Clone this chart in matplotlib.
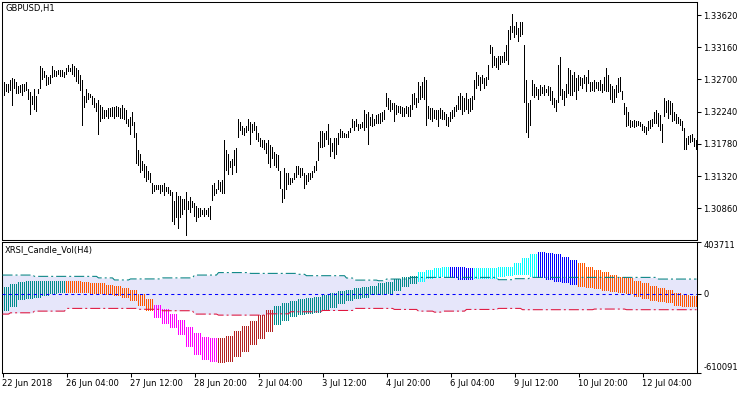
import numpy as np
import matplotlib.pyplot as plt

# GBPUSD H1 bars, first bar 22 Jun 2018 20:00 (one value per bar)
high = [1.3264, 1.3266, 1.3263, 1.3264, 1.3269, 1.3272, 1.3270, 1.3266, 1.3260, 1.3262, 1.3263, 1.3263,
        1.3266, 1.3256, 1.3252, 1.3247, 1.3257, 1.3246, 1.3257, 1.3289, 1.3286, 1.3282, 1.3276, 1.3273,
        1.3276, 1.3289, 1.3283, 1.3282, 1.3283, 1.3284, 1.3284, 1.3280, 1.3286, 1.3290, 1.3287, 1.3292,
        1.3289, 1.3286, 1.3283, 1.3276, 1.3269, 1.3247, 1.3256, 1.3250, 1.3249, 1.3247, 1.3243, 1.3236,
        1.3240, 1.3233, 1.3230, 1.3227, 1.3226, 1.3229, 1.3229, 1.3230, 1.3230, 1.3232, 1.3230, 1.3229,
        1.3233, 1.3229, 1.3226, 1.3214, 1.3217, 1.3223, 1.3209, 1.3193, 1.3169, 1.3164, 1.3154, 1.3150,
        1.3147, 1.3140, 1.3137, 1.3122, 1.3120, 1.3119, 1.3120, 1.3120, 1.3119, 1.3122, 1.3117, 1.3116,
        1.3112, 1.3109, 1.3097, 1.3109, 1.3104, 1.3103, 1.3100, 1.3100, 1.3109, 1.3097, 1.3102, 1.3097,
        1.3093, 1.3090, 1.3086, 1.3087, 1.3083, 1.3086, 1.3083, 1.3087, 1.3090, 1.3119, 1.3122, 1.3114,
        1.3126, 1.3123, 1.3126, 1.3183, 1.3169, 1.3164, 1.3154, 1.3157, 1.3169, 1.3172, 1.3214, 1.3209,
        1.3204, 1.3200, 1.3204, 1.3214, 1.3209, 1.3207, 1.3209, 1.3204, 1.3193, 1.3187, 1.3183, 1.3183,
        1.3179, 1.3183, 1.3176, 1.3173, 1.3166, 1.3164, 1.3162, 1.3140, 1.3114, 1.3144, 1.3137, 1.3136,
        1.3129, 1.3130, 1.3137, 1.3147, 1.3147, 1.3143, 1.3143, 1.3137, 1.3133, 1.3136, 1.3137, 1.3140,
        1.3147, 1.3154, 1.3180, 1.3196, 1.3196, 1.3193, 1.3196, 1.3207, 1.3187, 1.3179, 1.3186, 1.3187,
        1.3194, 1.3199, 1.3197, 1.3194, 1.3192, 1.3197, 1.3200, 1.3214, 1.3210, 1.3214, 1.3206, 1.3206,
        1.3209, 1.3227, 1.3220, 1.3223, 1.3217, 1.3220, 1.3214, 1.3219, 1.3220, 1.3222, 1.3223, 1.3226,
        1.3250, 1.3243, 1.3240, 1.3236, 1.3237, 1.3234, 1.3232, 1.3232, 1.3230, 1.3229, 1.3232, 1.3230,
        1.3233, 1.3249, 1.3250, 1.3244, 1.3267, 1.3260, 1.3266, 1.3274, 1.3269, 1.3232, 1.3229, 1.3229,
        1.3226, 1.3227, 1.3226, 1.3229, 1.3226, 1.3223, 1.3220, 1.3217, 1.3223, 1.3226, 1.3230, 1.3234,
        1.3246, 1.3250, 1.3247, 1.3244, 1.3250, 1.3242, 1.3243, 1.3246, 1.3269, 1.3280, 1.3277, 1.3274,
        1.3276, 1.3272, 1.3274, 1.3290, 1.3319, 1.3317, 1.3304, 1.3300, 1.3303, 1.3304, 1.3303, 1.3309,
        1.3319, 1.3340, 1.3347, 1.3363, 1.3347, 1.3352, 1.3343, 1.3352, 1.3352, 1.3319, 1.3269, 1.3237,
        1.3240, 1.3269, 1.3264, 1.3259, 1.3257, 1.3262, 1.3259, 1.3262, 1.3257, 1.3260, 1.3259, 1.3254,
        1.3243, 1.3240, 1.3290, 1.3302, 1.3257, 1.3254, 1.3263, 1.3286, 1.3283, 1.3276, 1.3280, 1.3272,
        1.3276, 1.3274, 1.3272, 1.3276, 1.3274, 1.3283, 1.3266, 1.3266, 1.3269, 1.3267, 1.3266, 1.3269,
        1.3264, 1.3274, 1.3286, 1.3276, 1.3263, 1.3260, 1.3257, 1.3262, 1.3272, 1.3273, 1.3254, 1.3237,
        1.3230, 1.3223, 1.3212, 1.3210, 1.3212, 1.3210, 1.3210, 1.3209, 1.3206, 1.3204, 1.3202, 1.3210,
        1.3212, 1.3214, 1.3223, 1.3226, 1.3222, 1.3219, 1.3206, 1.3244, 1.3239, 1.3240, 1.3239, 1.3236,
        1.3223, 1.3220, 1.3217, 1.3214, 1.3210, 1.3200, 1.3186, 1.3189, 1.3190, 1.3192, 1.3187, 1.3183]

low = [1.3252, 1.3246, 1.3252, 1.3250, 1.3253, 1.3232, 1.3257, 1.3249, 1.3249, 1.3250, 1.3247, 1.3252,
       1.3254, 1.3240, 1.3219, 1.3234, 1.3226, 1.3224, 1.3249, 1.3257, 1.3269, 1.3272, 1.3260, 1.3262,
       1.3263, 1.3272, 1.3273, 1.3273, 1.3276, 1.3274, 1.3274, 1.3272, 1.3277, 1.3280, 1.3280, 1.3276,
       1.3273, 1.3266, 1.3263, 1.3254, 1.3204, 1.3229, 1.3236, 1.3240, 1.3243, 1.3233, 1.3229, 1.3223,
       1.3190, 1.3209, 1.3214, 1.3214, 1.3216, 1.3214, 1.3217, 1.3217, 1.3214, 1.3216, 1.3216, 1.3213,
       1.3214, 1.3212, 1.3207, 1.3202, 1.3190, 1.3204, 1.3187, 1.3150, 1.3147, 1.3136, 1.3140, 1.3129,
       1.3123, 1.3126, 1.3122, 1.3107, 1.3109, 1.3112, 1.3112, 1.3107, 1.3110, 1.3104, 1.3109, 1.3107,
       1.3104, 1.3066, 1.3062, 1.3072, 1.3057, 1.3072, 1.3076, 1.3083, 1.3047, 1.3083, 1.3080, 1.3086,
       1.3073, 1.3066, 1.3072, 1.3073, 1.3076, 1.3073, 1.3076, 1.3074, 1.3069, 1.3097, 1.3104, 1.3107,
       1.3112, 1.3109, 1.3107, 1.3107, 1.3140, 1.3133, 1.3143, 1.3133, 1.3147, 1.3136, 1.3186, 1.3197,
       1.3190, 1.3189, 1.3194, 1.3197, 1.3176, 1.3194, 1.3197, 1.3183, 1.3180, 1.3173, 1.3172, 1.3169,
       1.3164, 1.3150, 1.3143, 1.3157, 1.3147, 1.3144, 1.3140, 1.3114, 1.3093, 1.3100, 1.3112, 1.3119,
       1.3120, 1.3122, 1.3126, 1.3129, 1.3133, 1.3129, 1.3132, 1.3114, 1.3119, 1.3123, 1.3126, 1.3129,
       1.3137, 1.3140, 1.3154, 1.3172, 1.3172, 1.3173, 1.3183, 1.3176, 1.3159, 1.3166, 1.3157, 1.3162,
       1.3176, 1.3186, 1.3187, 1.3186, 1.3186, 1.3187, 1.3193, 1.3200, 1.3197, 1.3202, 1.3197, 1.3199,
       1.3200, 1.3197, 1.3200, 1.3176, 1.3204, 1.3202, 1.3204, 1.3206, 1.3207, 1.3207, 1.3209, 1.3212,
       1.3230, 1.3226, 1.3223, 1.3226, 1.3209, 1.3219, 1.3222, 1.3220, 1.3217, 1.3216, 1.3220, 1.3217,
       1.3217, 1.3226, 1.3233, 1.3229, 1.3237, 1.3240, 1.3243, 1.3240, 1.3203, 1.3214, 1.3212, 1.3209,
       1.3214, 1.3212, 1.3202, 1.3214, 1.3212, 1.3212, 1.3203, 1.3202, 1.3209, 1.3213, 1.3216, 1.3223,
       1.3226, 1.3226, 1.3219, 1.3223, 1.3227, 1.3220, 1.3224, 1.3226, 1.3240, 1.3257, 1.3260, 1.3254,
       1.3263, 1.3257, 1.3260, 1.3269, 1.3307, 1.3287, 1.3289, 1.3286, 1.3283, 1.3290, 1.3293, 1.3294,
       1.3297, 1.3290, 1.3326, 1.3336, 1.3329, 1.3334, 1.3323, 1.3330, 1.3333, 1.3237, 1.3193, 1.3187,
       1.3204, 1.3247, 1.3243, 1.3246, 1.3240, 1.3247, 1.3249, 1.3246, 1.3250, 1.3247, 1.3239, 1.3234,
       1.3229, 1.3223, 1.3237, 1.3246, 1.3240, 1.3232, 1.3243, 1.3249, 1.3247, 1.3247, 1.3252, 1.3240,
       1.3254, 1.3260, 1.3257, 1.3263, 1.3252, 1.3264, 1.3252, 1.3254, 1.3252, 1.3256, 1.3253, 1.3254,
       1.3250, 1.3254, 1.3252, 1.3252, 1.3240, 1.3236, 1.3237, 1.3244, 1.3250, 1.3252, 1.3240, 1.3219,
       1.3202, 1.3204, 1.3200, 1.3202, 1.3200, 1.3202, 1.3203, 1.3202, 1.3196, 1.3193, 1.3190, 1.3197,
       1.3199, 1.3202, 1.3206, 1.3207, 1.3202, 1.3197, 1.3179, 1.3216, 1.3222, 1.3214, 1.3219, 1.3209,
       1.3210, 1.3206, 1.3207, 1.3203, 1.3197, 1.3170, 1.3170, 1.3176, 1.3179, 1.3180, 1.3173, 1.3169]

price_ticks = [1.30860, 1.31320, 1.31780, 1.32240, 1.32700, 1.33160, 1.33620]

date_labels = ['22 Jun 2018', '26 Jun 04:00', '27 Jun 12:00', '28 Jun 20:00', '2 Jul 04:00',
               '3 Jul 12:00', '4 Jul 20:00', '6 Jul 04:00', '9 Jul 12:00', '10 Jul 20:00',
               '12 Jul 04:00']
date_bars = [0, 32, 64, 96, 128, 160, 192, 224, 256, 288, 320]

# XRSI_Candle_Vol(H4): one value per H4 bar (= 4 H1 bars)
body_hi = [52000, 78000, 92000, 99000, 99000, 99000, 99000, 99000,
           99000, 99000, 94000, 86000, 86000, 68000, 57000, 47000, 26000, -5000, -39000,
           -88000, -115000, -157000, -201000, -261000, -305000, -339000, -345000,
           -345000, -331000, -292000, -253000, -214000, -162000, -123000,
           -96000, -70000, -57000, -45000, -31000, -23000, -9000, 9000, 22000, 30000,
           40000, 48000, 61000, 79000, 87000, 113000, 126000, 139000,
           165000, 186000, 199000, 210000,
           210000, 204000, 199000,
           197000, 197000, 197000, 204000, 210000, 236000, 275000, 309000,
           322000, 316000, 309000, 283000, 262000,
           236000, 210000, 186000, 165000, 147000, 132000, 121000, 100000, 79000, 61000,
           40000, 27000, 9000, -9000, -17000]
body_lo = [-131000, -102000, -52000, -45000, -31000, -18000, -3000, 2000,
           8000, 8000, 8000, 1000, 1000, -13000, -21000, -37000, -57000, -96000, -135000,
           -188000, -235000, -266000, -323000, -410000, -475000, -514000, -532000,
           -540000, -527000, -488000, -449000, -397000, -350000, -298000,
           -245000, -214000, -182000, -167000, -157000, -148000, -130000, -109000, -83000, -56000,
           -38000, -31000, -9000, -9000, 1000, 22000, 48000, 74000,
           87000, 113000, 121000, 132000,
           121000, 105000, 105000,
           113000, 113000, 113000, 132000, 139000, 147000, 147000, 132000,
           121000, 105000, 92000, 79000, 69000,
           53000, 42000, 34000, 22000, 14000, 9000, -5000, -23000, -38000, -56000,
           -64000, -70000, -96000, -101000, -101000]
body_state = (['teal'] * 8 + ['orange'] * 11 + ['magenta'] * 8 + ['brown'] * 7 +
              ['teal'] * 18 + ['cyan'] * 4 + ['blue'] * 3 + ['cyan'] * 8 +
              ['blue'] * 5 + ['orange'] * 15)
level_up = ([144000] * 4 + [134000] * 8 + [122000] * 2 + [106000] * 2 + [114000] * 4 +
            [122000] * 4 + [144000] * 3 + [163000] * 4 + [157000] * 6 + [150000] +
            [139000] * 5 + [121000] + [105000] * 3 + [100000] + [113000] * 3 +
            [126000] * 11 + [108000] * 2 + [116000] * 2 + [126000] * 16 + [113000] * 5)
level_dn = ([-158000] + [-148000] * 3 + [-135000] * 4 + [-114000] * 9 + [-121000] * 3 +
            [-132000] * 4 + [-158000] * 3 + [-166000] * 6 + [-156000] * 3 + [-140000] * 4 +
            [-130000] * 4 + [-114000] * 5 + [-122000] * 3 + [-135000] * 2 + [-143000] +
            [-135000] * 3 + [-122000] * 4 + [-114000] * 3 + [-124000] * 9 + [-119000] * 4 +
            [-124000] * 9)
ind_min, ind_max = -610091, 403711

state_colors = {'teal': '#008B8B', 'orange': '#FF5500', 'magenta': '#FF00FF',
                'brown': '#B22222', 'cyan': '#00FFFF', 'blue': '#0000FF'}

n = len(high)
x = np.arange(n)
# 2 px per bar; the half pixel shift puts each bar on a whole pixel column
xlim = (-0.25, n - 0.75)
bar_w = 0.5   # one pixel

fig = plt.figure(figsize=(7.5, 3.94), dpi=100)
ax1 = fig.add_axes([2 / 750, 154.5 / 394, 695 / 750, 237.5 / 394])
ax2 = fig.add_axes([2 / 750, 21.5 / 394, 695 / 750, 131 / 394])

# price bars
hl = np.array(high) - np.array(low)
ax1.bar(x, hl, bottom=low, width=bar_w, color='black', linewidth=0, antialiased=False)
ax1.set_xlim(*xlim)
ax1.set_ylim(1.30415, 1.33806)
ax1.set_xticks([])
ax1.yaxis.tick_right()
ax1.set_yticks(price_ticks)
ax1.set_yticklabels(['%.5f' % v for v in price_ticks])

# indicator, H4 values spread over the H1 bars
hi = np.repeat(body_hi, 4)
lo = np.repeat(body_lo, 4)
up = np.repeat(level_up, 4)
dn = np.repeat(level_dn, 4)
cols = [state_colors[s] for s in np.repeat(body_state, 4)]

ax2.fill_between(x, dn, up, color='#E6E6FA', linewidth=0, zorder=1)
ax2.bar(x, hi - lo, bottom=lo, width=bar_w, color=cols, linewidth=0, antialiased=False, zorder=2)
ax2.plot(x, up, color='#008080', linewidth=0.75, linestyle=(0, (9.6, 2.9, 1.9, 2.9)), zorder=3)
ax2.plot(x, dn, color='#E0143C', linewidth=0.75, linestyle=(0, (9.6, 2.9, 1.9, 2.9)), zorder=3)
ax2.axhline(0, color='#0000FF', linewidth=0.75, linestyle=(0, (3, 3)), zorder=3)
ax2.set_xlim(*xlim)
ax2.set_ylim(ind_min, ind_max)
ax2.yaxis.tick_right()
ax2.set_yticks([ind_min, 0, ind_max])
ax2.set_yticklabels([str(ind_min), '0', str(ind_max)])
ylab = ax2.get_yticklabels()
ylab[0].set_verticalalignment('bottom')
ylab[2].set_verticalalignment('top')
ax2.set_xticks(date_bars)
ax2.set_xticklabels(date_labels)
for lbl in ax2.get_xticklabels():
    lbl.set_horizontalalignment('left')

for ax in (ax1, ax2):
    ax.tick_params(axis='both', direction='out', length=3, width=0.75, pad=1.5,
                   labelsize=6, colors='black')
    for sp in ax.spines.values():
        sp.set_linewidth(0.75)

fig.text(6 / 750, 1 - 4 / 394, 'GBPUSD,H1', fontsize=6, va='top', ha='left')
fig.text(5 / 750, 1 - 245 / 394, 'XRSI_Candle_Vol(H4)', fontsize=6, va='top', ha='left')

fig.savefig('out.png', dpi=100)
